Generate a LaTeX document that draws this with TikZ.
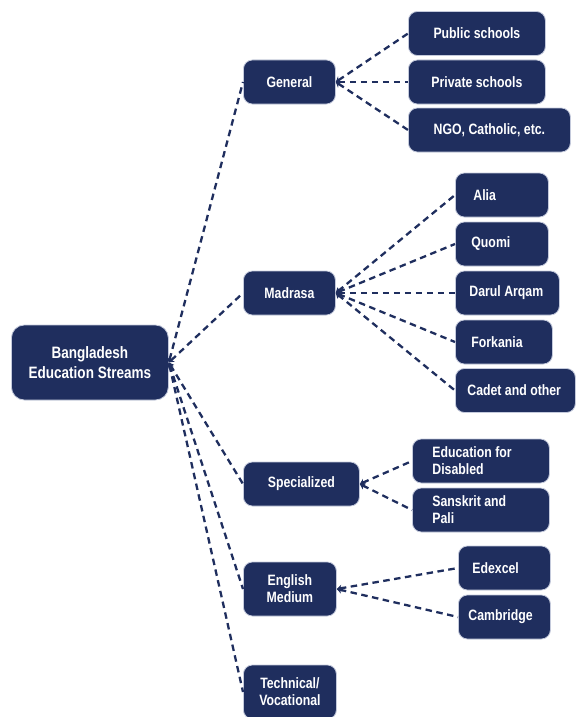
\documentclass[tikz,border=0pt]{standalone}
\usepackage{fontspec}
\setmainfont{Liberation Sans}[FakeStretch=0.82]
\usetikzlibrary{arrows.meta}
\definecolor{navycolor}{RGB}{31, 46, 94}
\definecolor{rimcolor}{RGB}{196, 202, 220}
\tikzset{
    % Base styles
    basenode/.style={
        draw=rimcolor, line width=0.8pt, fill=navycolor, text=white,
        font=\bfseries\fontsize{15}{17}\selectfont,
        minimum height=44pt, inner ysep=2pt,
        rounded corners=9pt, anchor=west
    },
    % Specific node types
    rootnode/.style={basenode, align=center, font=\bfseries\fontsize{16.5}{20}\selectfont,
        minimum width=157pt, minimum height=75pt, rounded corners=13pt},
    streamnode/.style={basenode, align=center},
    subnode/.style={basenode, align=flush left, inner xsep=16pt},
    % Arrows
    linkarrow/.style={{Stealth[length=5pt, width=7pt]}-, line width=2.3pt, navycolor,
        dash pattern=on 6.5pt off 4.5pt},
}

\begin{document}
\begin{tikzpicture}[x=1pt, y=-1pt]
\useasboundingbox (0,0) rectangle (576,717);

% Root
\node (root) [rootnode] at (11,362.5) {Bangladesh\\Education Streams};

% Streams
\node (general) [streamnode, minimum width=92pt] at (243,82) {General};
\node (madrasa) [streamnode, minimum width=92pt] at (243,293) {Madrasa};
\node (special) [streamnode, minimum width=116pt] at (243,484) {Specialized};
\node (english) [streamnode, minimum width=93pt, minimum height=54pt] at (243,589) {English\\Medium};
\node (technical) [streamnode, minimum width=93pt, minimum height=54pt] at (243,692) {Technical/\\Vocational};

% General branches
\node (public) [streamnode, minimum width=137pt] at (408,33.5) {Public schools};
\node (private) [streamnode, minimum width=137pt] at (408,82) {Private schools};
\node (ngo) [streamnode, minimum width=162pt] at (408,130) {NGO, Catholic, etc.};

% Madrasa branches
\node (alia) [subnode, inner xsep=18pt, text width=57pt] at (455,195) {Alia};
\node (quomi) [subnode, text width=61pt] at (455,244) {Quomi};
\node (darul) [subnode, inner xsep=14pt, text width=76pt] at (455,293) {Darul Arqam};
\node (forkania) [subnode, text width=65pt] at (455,342) {Forkania};
\node (cadet) [subnode, inner xsep=12pt, text width=96pt] at (455,390.5) {Cadet and other};

% Specialized branches
\node (disabled) [subnode, inner xsep=20pt, text width=97pt] at (412,461) {Education for\\Disabled};
\node (sanskrit) [subnode, inner xsep=20pt, text width=97pt] at (412,510) {Sanskrit and\\Pali};

% English medium branches
\node (edexcel) [subnode, inner xsep=14pt, text width=64pt] at (458,568) {Edexcel};
\node (cambridge) [subnode, inner xsep=10pt, text width=72pt] at (458,617) {Cambridge};

% Arrows from root
\draw[linkarrow] (root.east) -- (general.west);
\draw[linkarrow] (root.east) -- (madrasa.west);
\draw[linkarrow] (root.east) -- (special.west);
\draw[linkarrow] (root.east) -- (english.west);
\draw[linkarrow] (root.east) -- (technical.west);

% Arrows from streams
\draw[linkarrow] (general.east) -- (public.west);
\draw[linkarrow] (general.east) -- (private.west);
\draw[linkarrow] (general.east) -- (ngo.west);

\draw[linkarrow] (madrasa.east) -- (alia.west);
\draw[linkarrow] (madrasa.east) -- (quomi.west);
\draw[linkarrow] (madrasa.east) -- (darul.west);
\draw[linkarrow] (madrasa.east) -- (forkania.west);
\draw[linkarrow] (madrasa.east) -- (cadet.west);

\draw[linkarrow] (special.east) -- (disabled.west);
\draw[linkarrow] (special.east) -- (sanskrit.west);

\draw[linkarrow] (english.east) -- (edexcel.west);
\draw[linkarrow] (english.east) -- (cambridge.west);

\end{tikzpicture}
\end{document}
